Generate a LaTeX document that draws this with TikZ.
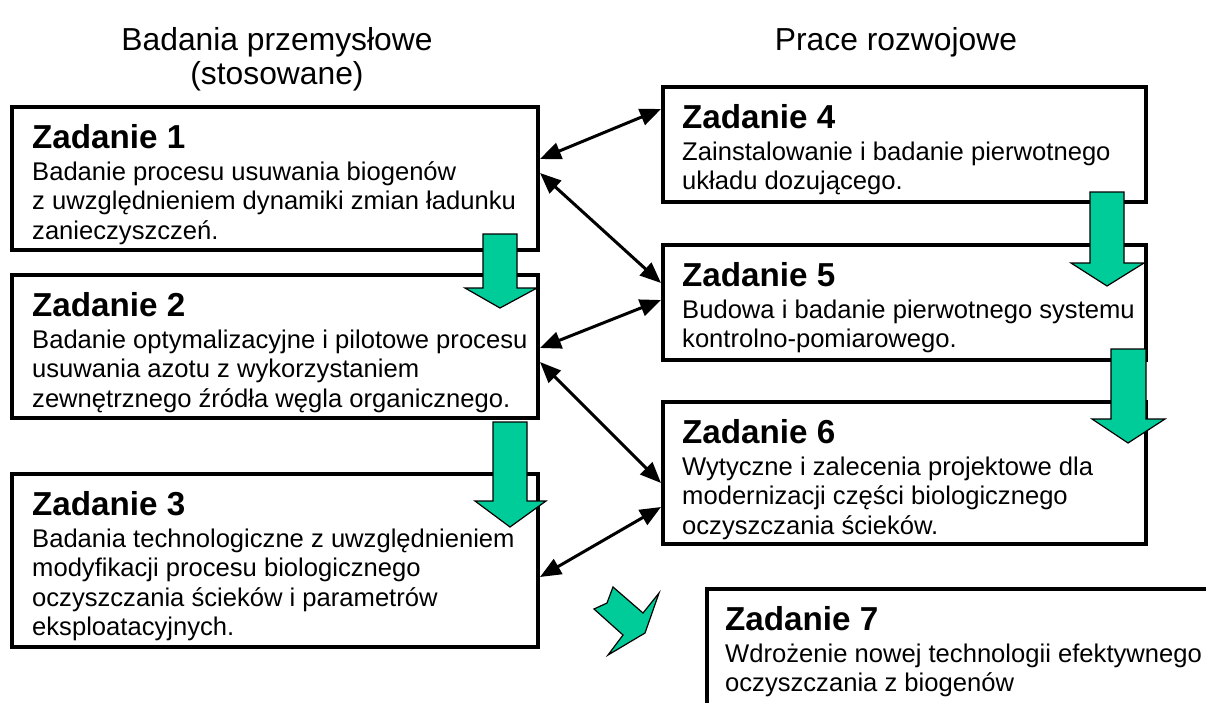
\documentclass[tikz,border=0pt]{standalone}
\usepackage{fontspec}
\setmainfont{Liberation Sans}
\usetikzlibrary{arrows.meta}
\definecolor{grn}{RGB}{0,204,153}
\begin{document}
\begin{tikzpicture}[x=1pt,y=-1pt,
  box/.style={draw, line width=4pt, inner sep=0pt},
  head/.style={font=\fontsize{33.2}{36}\selectfont\bfseries, anchor=base west, inner sep=0pt},
  body/.style={font=\fontsize{25.6}{29.5}\selectfont, anchor=base west, inner sep=0pt},
  title/.style={font=\fontsize{31.8}{35}\selectfont, anchor=base, inner sep=0pt},
  link/.style={line width=3pt, {Triangle[length=21pt,width=17pt]}-{Triangle[length=21pt,width=17pt]}},
  blockarrow/.style={draw=black, line width=1.2pt, fill=grn, line join=miter}]
\useasboundingbox (0,0) rectangle (1206,702);
\clip (0,0) rectangle (1206,702);

% titles
\node[title] (t1) at (277,50) {Badania przemysłowe};
\node[title] (t2) at (277,84) {(stosowane)};
\node[title] (t3) at (896,50) {Prace rozwojowe};

% boxes
\node[box, minimum width=526pt, minimum height=143pt] (b1) at (275,178.5) {};
\node[box, minimum width=526pt, minimum height=143pt] (b2) at (275,346.5) {};
\node[box, minimum width=526pt, minimum height=173pt] (b3) at (275,560.5) {};
\node[box, minimum width=483pt, minimum height=115pt] (b4) at (904.5,144.5) {};
\node[box, minimum width=483pt, minimum height=115pt] (b5) at (904.5,302.5) {};
\node[box, minimum width=483pt, minimum height=142pt] (b6) at (904.5,473) {};
\node[box, minimum width=533pt, minimum height=121pt] (b7) at (973.5,649.5) {};

% box 1
\node[head] (h1) at (32,148) {Zadanie 1};
\node[body] (l1a) at (32,180) {Badanie procesu usuwania biogenów};
\node[body] (l1b) at (32,209.5) {z uwzględnieniem dynamiki zmian ładunku};
\node[body] (l1c) at (32,239) {zanieczyszczeń.};
% box 2
\node[head] (h2) at (32,316) {Zadanie 2};
\node[body] (l2a) at (32,348) {Badanie optymalizacyjne i pilotowe procesu};
\node[body] (l2b) at (32,377.5) {usuwania azotu z wykorzystaniem};
\node[body] (l2c) at (32,407) {zewnętrznego źródła węgla organicznego.};
% box 3
\node[head] (h3) at (32,515) {Zadanie 3};
\node[body] (l3a) at (32,547) {Badania technologiczne z uwzględnieniem};
\node[body] (l3b) at (32,576.5) {modyfikacji procesu biologicznego};
\node[body] (l3c) at (32,606) {oczyszczania ścieków i parametrów};
\node[body] (l3d) at (32,635.5) {eksploatacyjnych.};
% box 4
\node[head] (h4) at (682,128) {Zadanie 4};
\node[body] (l4a) at (682,160) {Zainstalowanie i badanie pierwotnego};
\node[body] (l4b) at (682,189.5) {układu dozującego.};
% box 5
\node[head] (h5) at (682,286) {Zadanie 5};
\node[body] (l5a) at (682,318) {Budowa i badanie pierwotnego systemu};
\node[body] (l5b) at (682,347.5) {kontrolno-pomiarowego.};
% box 6
\node[head] (h6) at (682,443) {Zadanie 6};
\node[body] (l6a) at (682,475) {Wytyczne i zalecenia projektowe dla};
\node[body] (l6b) at (682,504.5) {modernizacji części biologicznego};
\node[body] (l6c) at (682,534) {oczyszczania ścieków.};
% box 7
\node[head] (h7) at (725,630) {Zadanie 7};
\node[body] (l7a) at (725,662) {Wdrożenie nowej technologii efektywnego};
\node[body] (l7b) at (725,691.5) {oczyszczania z biogenów};

% black double arrows
\draw[link] ([yshift=19.5pt]b1.east) -- ([yshift=35.5pt]b4.west);
\draw[link] ([yshift=5.5pt]b1.east) -- ([yshift=19.5pt]b5.west);
\draw[link] ([yshift=-1.5pt]b2.east) -- ([yshift=2.5pt]b5.west);
\draw[link] ([yshift=-15.5pt]b2.east) -- ([yshift=-10pt]b6.west);
\draw[link] ([yshift=-16.5pt]b3.east) -- ([yshift=-34pt]b6.west);

% green block arrows
\draw[blockarrow] (483,234) -- (517,234) -- (517,288) -- (537,288) -- (500,308) -- (465,288) -- (483,288) -- cycle;
\draw[blockarrow] (493,422) -- (527,422) -- (527,501) -- (546,501) -- (510,527) -- (475,501) -- (493,501) -- cycle;
\draw[blockarrow] (1090,192) -- (1124,192) -- (1124,263) -- (1144,263) -- (1107,286) -- (1071,263) -- (1090,263) -- cycle;
\draw[blockarrow] (1111,349) -- (1146,349) -- (1146,419) -- (1165,419) -- (1128,443) -- (1092,419) -- (1111,419) -- cycle;
\draw[blockarrow] (613,587) -- (643,613) -- (659,593) -- (645,633) -- (608,655) -- (623,635) -- (594,609) -- (607,603) -- cycle;
\end{tikzpicture}
\end{document}
